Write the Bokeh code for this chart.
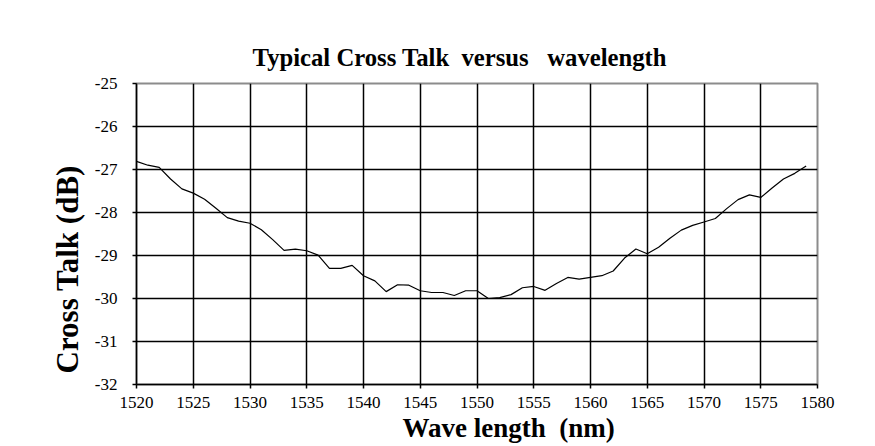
from bokeh.plotting import figure
from bokeh.models import FixedTicker, Title
from bokeh.embed import file_html
from bokeh.resources import INLINE

# ---- data ----
wavelength_nm = [1520, 1521, 1522, 1523, 1524, 1525, 1526, 1527, 1528, 1529,
                 1530, 1531, 1532, 1533, 1534, 1535, 1536, 1537, 1538, 1539,
                 1540, 1541, 1542, 1543, 1544, 1545, 1546, 1547, 1548, 1549,
                 1550, 1551, 1552, 1553, 1554, 1555, 1556, 1557, 1558, 1559,
                 1560, 1561, 1562, 1563, 1564, 1565, 1566, 1567, 1568, 1569,
                 1570, 1571, 1572, 1573, 1574, 1575, 1576, 1577, 1578, 1579]
cross_talk_db = [-26.81, -26.90, -26.95, -27.22, -27.45, -27.55, -27.69, -27.90, -28.12, -28.20,
                 -28.25, -28.40, -28.63, -28.88, -28.85, -28.89, -28.99, -29.30, -29.30, -29.23,
                 -29.47, -29.59, -29.84, -29.68, -29.69, -29.82, -29.86, -29.86, -29.93, -29.82,
                 -29.82, -30.00, -29.98, -29.91, -29.75, -29.72, -29.81, -29.65, -29.51, -29.55,
                 -29.51, -29.47, -29.36, -29.06, -28.85, -28.96, -28.81, -28.60, -28.41, -28.30,
                 -28.22, -28.14, -27.91, -27.70, -27.59, -27.65, -27.43, -27.22, -27.09, -26.92]
x_ticks = [1520, 1525, 1530, 1535, 1540, 1545, 1550, 1555, 1560, 1565, 1570, 1575, 1580]
y_ticks = [-32, -31, -30, -29, -28, -27, -26, -25]

title_text = "Typical Cross Talk\u00a0 versus\u00a0\u00a0 wavelength"
x_label_text = "Wave length\u00a0 (nm)"
y_label_text = "Cross Talk (dB)"

FONT = "Liberation Serif"

p = figure(width=875, height=446, output_backend="svg", toolbar_location=None,
           x_range=(1520, 1580), y_range=(-32, -25),
           min_border_left=136, min_border_right=58,
           min_border_top=83, min_border_bottom=62)

p.line(wavelength_nm, cross_talk_db, line_color="black", line_width=1.2)

# title
p.title.text = title_text
p.title.text_font = FONT
p.title.text_font_style = "bold"
p.title.text_font_size = "24.7px"
p.title.text_color = "black"
p.title.align = "left"
p.title.offset = 116
p.title.standoff = 26

# y axis label as a side title
p.add_layout(Title(text=y_label_text, align="left", offset=11, standoff=13,
                   text_font=FONT, text_font_style="bold", text_font_size="31px",
                   text_color="black"), "left")

# x axis label as a bottom title
p.add_layout(Title(text=x_label_text, align="left", offset=266, standoff=0,
                   text_font=FONT, text_font_style="bold", text_font_size="27px",
                   text_color="black"), "below")

for ax in (p.xaxis[0], p.yaxis[0]):
    ax.axis_line_color = "black"
    ax.axis_line_width = 1.5
    ax.major_tick_line_color = "black"
    ax.major_tick_line_width = 1.5
    ax.major_tick_in = 0
    ax.major_tick_out = 4
    ax.minor_tick_line_color = None
    ax.major_label_text_font = FONT
    ax.major_label_text_font_size = "17px"
    ax.major_label_text_color = "black"

p.xaxis[0].ticker = FixedTicker(ticks=x_ticks)
p.yaxis[0].ticker = FixedTicker(ticks=y_ticks)
p.yaxis[0].major_label_overrides = {t: str(t) for t in y_ticks}
p.xaxis[0].major_label_standoff = 8
p.yaxis[0].major_label_standoff = 15

p.xgrid[0].ticker = FixedTicker(ticks=x_ticks)
p.ygrid[0].ticker = FixedTicker(ticks=y_ticks)
for g in (p.xgrid[0], p.ygrid[0]):
    g.grid_line_color = "black"
    g.grid_line_width = 1.5
    g.grid_line_alpha = 1.0

p.outline_line_color = "#8c8c8c"
p.outline_line_width = 2
p.background_fill_color = "white"
p.border_fill_color = "white"

open("out.html", "w").write(file_html(p, INLINE))
